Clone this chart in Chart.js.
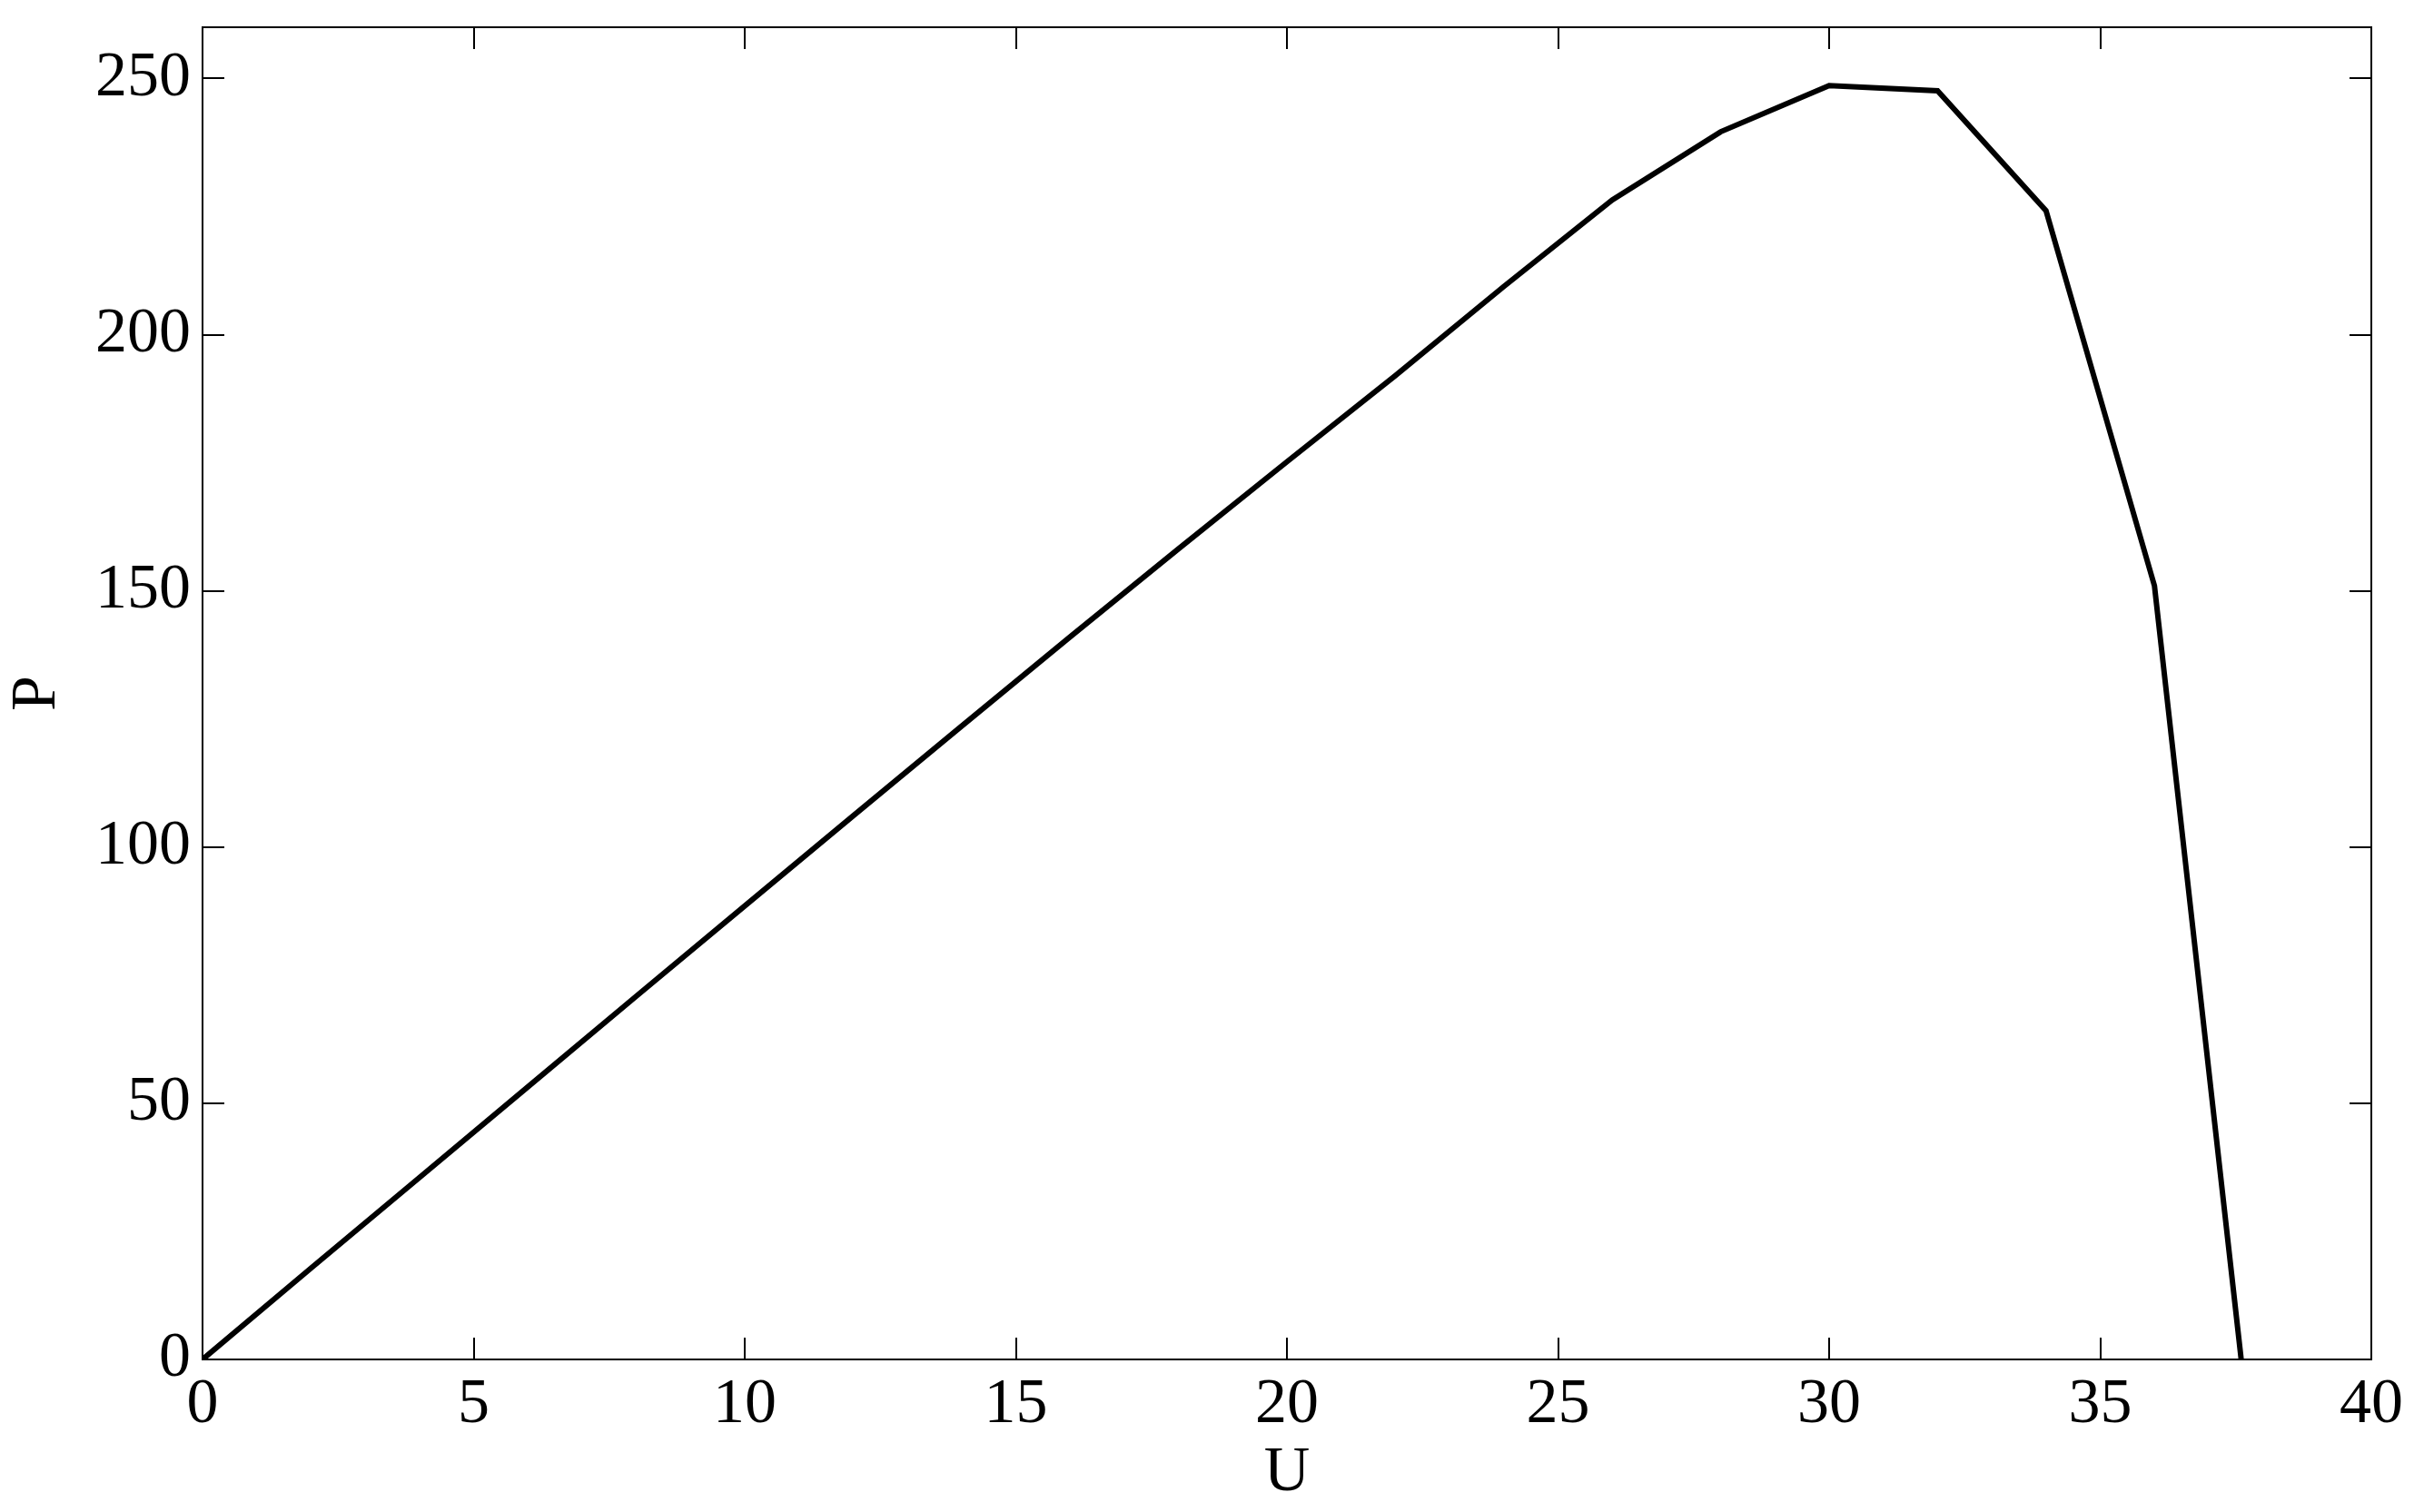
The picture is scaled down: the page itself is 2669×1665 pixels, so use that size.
<!DOCTYPE html>
<html>
<head>
<meta charset="utf-8">
<script src="https://cdn.jsdelivr.net/npm/chart.js@4"></script>
<style>
    body { margin: 0; background: #fff; }
    #wrap { width: 2669px; height: 1665px; }
</style>
</head>
<body>
<div id="wrap"><canvas id="myChart"></canvas></div>
<script>
// P-U curve
var voltage = [0, 2, 4, 6, 8, 10, 12, 14, 16, 18, 20, 22, 24, 26, 28, 30, 32, 34, 36, 37.6];
var power = [0, 17.8, 35.5, 53.2, 70.9, 88.5, 106.1, 123.6, 141.0, 158.2, 175.2, 192.0, 209.4, 226.3, 239.6, 248.6, 247.6, 224.2, 151.0, 0];

var x_ticks = [0, 5, 10, 15, 20, 25, 30, 35, 40];
var y_ticks = [0, 50, 100, 150, 200, 250];

var font_family = "'Liberation Serif', 'Times New Roman', serif";
var tick_len = 24;

var chart_data = [];
for (var i = 0; i < voltage.length; i++) {
    chart_data.push({x: voltage[i], y: power[i]});
}

// matlab style box with inward ticks on all four sides
var boxTicks = {
    id: 'boxTicks',
    afterDatasetsDraw: (chart) => {
        var ctx = chart.ctx;
        var a = chart.chartArea;
        var sx = chart.scales.x;
        var sy = chart.scales.y;
        ctx.save();
        ctx.strokeStyle = '#000';
        ctx.lineWidth = 2;
        ctx.strokeRect(a.left, a.top, a.right - a.left, a.bottom - a.top);
        ctx.beginPath();
        sx.ticks.forEach(t => {
            var px = Math.round(sx.getPixelForValue(t.value));
            ctx.moveTo(px, a.bottom);
            ctx.lineTo(px, a.bottom - tick_len);
            ctx.moveTo(px, a.top);
            ctx.lineTo(px, a.top + tick_len);
        });
        sy.ticks.forEach(t => {
            var py = Math.round(sy.getPixelForValue(t.value));
            ctx.moveTo(a.left, py);
            ctx.lineTo(a.left + tick_len, py);
            ctx.moveTo(a.right, py);
            ctx.lineTo(a.right - tick_len, py);
        });
        ctx.stroke();
        ctx.restore();
    }
};

var chart_config = {
    type: 'scatter',
    data: {
        datasets: [{
            label: 'P',
            data: chart_data,
            showLine: true,
            tension: 0,
            borderColor: '#000',
            borderWidth: 6,
            pointRadius: 0
        }]
    },
    options: {
        responsive: true,
        maintainAspectRatio: false,
        animation: false,
        layout: {
            padding: {left: 0, right: 58, top: 30, bottom: 0}
        },
        plugins: {
            legend: {display: false},
            tooltip: {enabled: false}
        },
        scales: {
            x: {
                type: 'linear',
                min: 0,
                max: 40,
                afterBuildTicks: (s) => { s.ticks = x_ticks.map(v => ({value: v})); },
                afterFit: (s) => {
                    s.height = 168;
                    s.paddingLeft = 0;
                    s.paddingRight = 0;
                },
                grid: {display: false, drawTicks: false},
                border: {display: false},
                ticks: {
                    color: '#000',
                    padding: 9,
                    maxRotation: 0,
                    font: {family: font_family, size: 70}
                },
                title: {
                    display: true,
                    text: 'U',
                    color: '#000',
                    padding: 0,
                    font: {family: font_family, size: 70}
                }
            },
            y: {
                type: 'linear',
                min: 0,
                max: 260,
                afterBuildTicks: (s) => { s.ticks = y_ticks.map(v => ({value: v})); },
                afterFit: (s) => {
                    s.width = 223;
                    s.paddingTop = 0;
                    s.paddingBottom = 0;
                },
                grid: {display: false, drawTicks: false},
                border: {display: false},
                ticks: {
                    color: '#000',
                    padding: 13,
                    font: {family: font_family, size: 70}
                },
                title: {
                    display: true,
                    text: 'P',
                    color: '#000',
                    padding: 0,
                    font: {family: font_family, size: 70}
                }
            }
        }
    },
    plugins: [boxTicks]
};

var chart = new Chart(document.getElementById('myChart'), chart_config);
</script>
</body>
</html>
